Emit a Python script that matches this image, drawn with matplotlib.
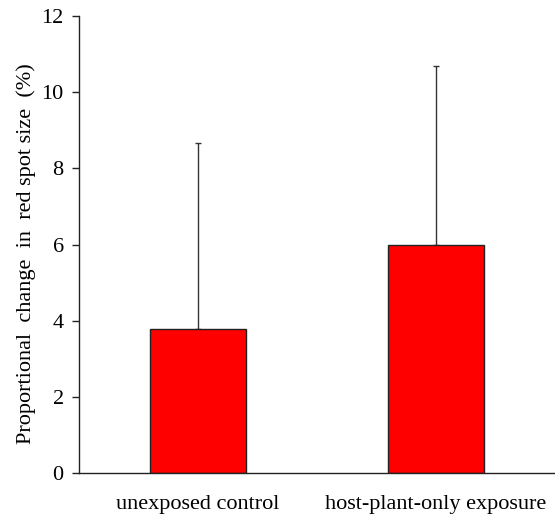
import matplotlib
matplotlib.use("Agg")
import matplotlib.pyplot as plt

categories = ["unexposed control", "host-plant-only exposure"]
values = [3.77, 6.0]
errors_upper = [4.89, 4.69]
yticks = [0, 2, 4, 6, 8, 10, 12]

plt.rcParams['font.family'] = ['Liberation Serif', 'DejaVu Serif']

fig = plt.figure(figsize=(5.55, 5.17), dpi=100)
ax = fig.add_axes([79/555, 1-473/517, 1-79/555, (473-16)/517])

x = list(range(len(categories)))
ax.bar(x, values, width=0.4, color='#ff0000', edgecolor='#222222', linewidth=1.0, zorder=2)
ax.errorbar(x, values, yerr=[[0]*len(values), errors_upper], fmt='none',
            ecolor='#333333', elinewidth=1.0, capsize=2, capthick=1.0, zorder=1)

ax.set_xlim(-0.5, 1.5)
ax.set_ylim(0, 12)
ax.set_yticks(yticks)
ax.set_yticklabels([str(t) for t in yticks], fontsize=16)
ax.set_xticks(x)
ax.set_xticklabels(categories, fontsize=16)
ax.tick_params(axis='x', length=0, pad=16)
ax.tick_params(axis='y', length=5, width=1, direction='out', color='#222222', pad=6)
ax.set_ylabel("Proportional  change  in  red spot size  (%)", fontsize=16)
ax.yaxis.set_label_coords(-0.091, 0.481)
for s in ['top', 'right']:
    ax.spines[s].set_visible(False)
for s in ['left', 'bottom']:
    ax.spines[s].set_linewidth(1.0)
    ax.spines[s].set_color('#222222')

fig.savefig("out.png", dpi=100)
